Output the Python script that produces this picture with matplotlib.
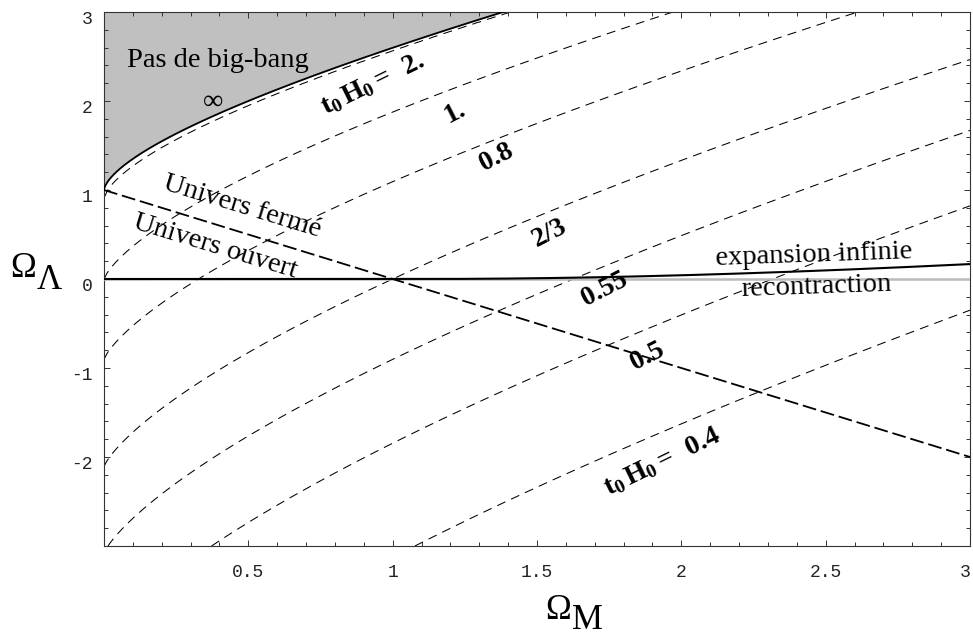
import numpy as np
import matplotlib
matplotlib.use('Agg')
import matplotlib.pyplot as plt
from matplotlib.ticker import MultipleLocator
import matplotlib.transforms as mtransforms

plt.rcParams['lines.scale_dashes'] = False
plt.rcParams['mathtext.fontset'] = 'custom'
plt.rcParams['mathtext.rm'] = 'Liberation Serif'
plt.rcParams['mathtext.bf'] = 'Liberation Serif:bold'
plt.rcParams['mathtext.it'] = 'Liberation Serif:italic'

# iso-age curves t0*H0 drawn in the (Omega_M, Omega_Lambda) plane
age_levels = [0.5, 0.55, 0.6, 2/3, 0.8, 1.0, 2.0]

# labels written next to the curves
age_labels = ['1.', '0.8', '2/3', '0.55', '0.5']
age_label_x = [1.216, 1.361, 1.545, 1.735, 1.881]
age_label_y = [1.876, 1.371, 0.517, -0.11, -0.865]
long_labels = [r'$\mathbf{t_0\,H_0 =\;\;2.}$', r'$\mathbf{t_0\,H_0 =\;\;0.4}$']
long_label_x = [0.928, 1.933]
long_label_y = [2.20, -2.045]

# region names
region_texts = ['Pas de big-bang', '\u221e', 'Univers ferm\u00e9', 'Univers ouvert',
                'expansion infinie', 'recontraction']
region_x = [0.08, 0.378, 0.478, 0.384, 2.46, 2.467]
region_y = [2.38, 1.99, 0.81, 0.36, 0.27, -0.09]
region_rot = [0, 0, -17, -17, 2, 2]

xtick_vals = [0.5, 1, 1.5, 2, 2.5, 3]
xtick_text = ['0.5', '1', '1.5', '2', '2.5', '3']
ytick_vals = [-2, -1, 0, 1, 2, 3]
ytick_text = ['-2', '-1', '0', '1', '2', '3']

# --- age of the universe on a grid: t0 H0 = int_0^1 da / sqrt(Om/a + Ok + OL a^2)
# substitution a = u^2 removes the singularity at a = 0
om = np.linspace(0, 3, 301)
ol = np.linspace(-3, 3, 301)
OM, OL = np.meshgrid(om, ol)
OK = 1 - OM - OL
n = 4000
u = (np.arange(n) + 0.5) / n
age = np.zeros_like(OM)
valid = np.ones(OM.shape, bool)
for ui in u:
    r = OM + OK * ui**2 + OL * ui**6
    valid &= r > 0
    age += 2 * ui**2 / np.sqrt(np.where(r > 0, r, 1.0))
age /= n
age[~valid] = np.nan

# no big-bang limit and expansion / recollapse limit
x = np.linspace(1e-6, 3, 3000)
q = (1 - x) / x
lim_bb = np.where(x <= 0.5,
                  4 * x * np.cosh(np.arccosh(np.clip(q, 1, None)) / 3)**3,
                  4 * x * np.cos(np.arccos(np.clip(q, -1, 1)) / 3)**3)
lim_bb = np.concatenate([[1.0], lim_bb])
xb = np.concatenate([[0.0], x])
recol = np.where(x <= 1, 0.0,
                 4 * x * np.cos(np.arccos(np.clip(q, -1, 1)) / 3 + 4 * np.pi / 3)**3)

fig = plt.figure(figsize=(9.73, 6.37), dpi=100)
ax = fig.add_axes([104/973, 91/637, 866/973, 534/637])

ax.fill_between(xb, np.minimum(lim_bb, 3), 3, color='#c0c0c0', lw=0, zorder=1)
ax.contour(OM, OL, age, levels=age_levels, colors='k', linewidths=0.75,
           linestyles=[(0, (6.5, 4.5))] * len(age_levels), zorder=2)
ax.axhline(0, color='#bbbbbb', lw=1.8, zorder=3)
ax.plot(x, recol, color='k', lw=1.5, zorder=4)
ax.plot(om, 1 - om, color='k', lw=1.3, dashes=(10, 3.5), zorder=4)
ax.plot(xb, lim_bb, color='k', lw=1.3, zorder=5)

for t, xx, yy in zip(age_labels, age_label_x, age_label_y):
    ax.text(xx, yy, t, fontsize=20, fontweight='bold', family='Liberation Serif',
            rotation=27, ha='center', va='center', rotation_mode='anchor', zorder=6)
for t, xx, yy in zip(long_labels, long_label_x, long_label_y):
    ax.text(xx, yy, t, fontsize=20, rotation=26, ha='center', va='center',
            rotation_mode='anchor', zorder=6)
for t, xx, yy, rot in zip(region_texts, region_x, region_y, region_rot):
    ax.text(xx, yy, t, fontsize=20.5, family='Liberation Serif', rotation=rot,
            ha='left' if t == 'Pas de big-bang' else 'center',
            va='baseline' if t == 'Pas de big-bang' else 'center',
            rotation_mode='anchor', zorder=6)

ax.set_xlim(0, 3)
ax.set_ylim(-3, 3)
ax.set_xticks(xtick_vals, labels=xtick_text)
ax.set_yticks(ytick_vals, labels=ytick_text)
ax.xaxis.set_minor_locator(MultipleLocator(0.1))
ax.yaxis.set_minor_locator(MultipleLocator(0.2))
ax.tick_params(which='both', direction='in', top=True, right=True, width=0.7, color='#333333')
ax.tick_params(which='major', length=4)
ax.tick_params(which='minor', length=3)
ax.tick_params(axis='x', pad=13)
ax.tick_params(axis='y', pad=8)
for lab in ax.get_xticklabels() + ax.get_yticklabels():
    lab.set_family('Liberation Mono')
    lab.set_fontsize(13)
    lab.set_color('#222222')
shift = mtransforms.ScaledTranslation(0, -4.3/72, fig.dpi_scale_trans)
for lab in ax.get_yticklabels():
    lab.set_transform(lab.get_transform() + shift)
# keep the last x label inside the canvas
last = ax.get_xticklabels()[-1]
last.set_transform(last.get_transform() +
                   mtransforms.ScaledTranslation(-3.5/72, 0, fig.dpi_scale_trans))
for sp in ax.spines.values():
    sp.set_linewidth(0.8)
    sp.set_color('#333333')

# axis names
fig.text(545/973, 18/637, '\u03a9', fontsize=25, family='Liberation Serif', va='baseline')
fig.text(572/973, 8/637, 'M', fontsize=25, family='Liberation Serif', va='baseline')
fig.text(10/973, 360/637, '\u03a9', fontsize=25, family='Liberation Serif', va='baseline')
fig.text(37/973, 348/637, '\u039b', fontsize=25, family='Liberation Serif', va='baseline')

fig.savefig('out.png', dpi=100)
